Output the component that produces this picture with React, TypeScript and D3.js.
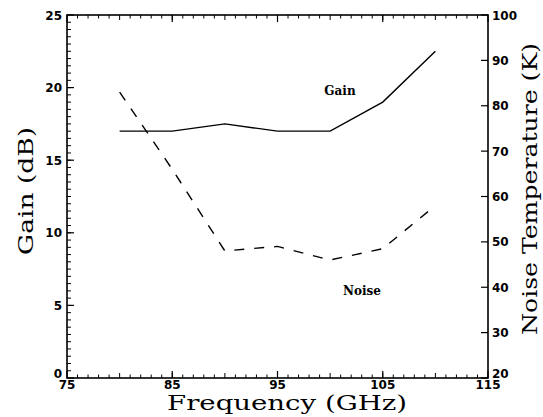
import React from 'react';
import * as d3 from 'd3';

// values
const freq = [80, 85, 90, 95, 100, 105, 110];
const gainDb = [17, 17, 17.5, 17, 17, 19, 22.5];
const noiseK = [83, 66, 48, 49, 46, 48.5, 58];

const xTickLabels = [75, 85, 95, 105, 115];
const gainTickLabels = [0, 5, 10, 15, 20, 25];
const noiseTickLabels = [20, 30, 40, 50, 60, 70, 80, 90, 100];

const W = 543;
const H = 417;
const left = 67;
const right = 488;
const top = 15;
const bottom = 378;

const App: React.FC = () => {
  const x = d3.scaleLinear().domain([75, 115]).range([left, right]);
  const yL = d3.scaleLinear().domain([0, 25]).range([bottom, top]);
  const yR = d3.scaleLinear().domain([20, 100]).range([bottom, top]);

  const gainLine = d3.line<number>()
    .x((_, i) => x(freq[i]))
    .y(d => yL(d));
  const noiseLine = d3.line<number>()
    .x((_, i) => x(freq[i]))
    .y(d => yR(d));

  const xMinor = d3.range(76, 115, 1);
  const yMinor = d3.range(0.5, 25, 0.5);

  const tickFont = {
    fontFamily: 'DejaVu Sans',
    fontWeight: 'bold' as const,
    fontSize: 12,
    fill: '#000',
  };
  const titleFont = {
    fontFamily: 'DejaVu Serif',
    fontSize: 20,
    fill: '#000',
  };

  return (
    <svg width={W} height={H} style={{ position: 'absolute', left: 0, top: 0, background: '#fff' }}>
      {/* frame */}
      <rect x={left} y={top} width={right - left} height={bottom - top}
        fill="none" stroke="#000" strokeWidth={1.6} />

      {/* bottom / top minor ticks */}
      {xMinor.map(v => (
        <g key={'xm' + v} stroke="#000" strokeWidth={1}>
          <line x1={x(v)} x2={x(v)} y1={bottom} y2={bottom - (v % 5 === 0 ? 5 : 3.5)} />
          <line x1={x(v)} x2={x(v)} y1={top} y2={top + (v % 5 === 0 ? 5 : 3.5)} />
        </g>
      ))}
      {xTickLabels.map(v => (
        <g key={'xt' + v}>
          <line x1={x(v)} x2={x(v)} y1={bottom} y2={bottom - 7} stroke="#000" strokeWidth={1.2} />
          <line x1={x(v)} x2={x(v)} y1={top} y2={top + 7} stroke="#000" strokeWidth={1.2} />
          <text x={x(v)} y={389} textAnchor="middle" {...tickFont}>{v}</text>
        </g>
      ))}

      {/* left axis ticks */}
      {yMinor.map(v => (
        <line key={'ym' + v} x1={left} x2={left + 4} y1={yL(v)} y2={yL(v)} stroke="#000" strokeWidth={1} />
      ))}
      {gainTickLabels.map(v => (
        <g key={'yl' + v}>
          <line x1={left} x2={left + 7} y1={yL(v)} y2={yL(v)} stroke="#000" strokeWidth={1.2} />
          <text x={62} y={yL(v) + (v === 0 ? 0 : 4.5)} textAnchor="end" {...tickFont}>{v}</text>
        </g>
      ))}

      {/* right axis ticks */}
      {noiseTickLabels.map(v => (
        <g key={'yr' + v}>
          <line x1={right} x2={right - 7} y1={yR(v)} y2={yR(v)} stroke="#000" strokeWidth={1.2} />
          <text x={492} y={yR(v) + (v === 20 ? 0 : 4.5)} textAnchor="start" {...tickFont}>{v}</text>
        </g>
      ))}

      {/* series */}
      <path d={gainLine(gainDb) ?? ''} fill="none" stroke="#000" strokeWidth={1.4} />
      <path d={noiseLine(noiseK) ?? ''} fill="none" stroke="#000" strokeWidth={1.4}
        strokeDasharray="10,10" />

      {/* series labels */}
      <text x={340} y={95} textAnchor="middle" fontFamily="DejaVu Serif" fontWeight="bold" fontSize={12}>Gain</text>
      <text x={362} y={295} textAnchor="middle" fontFamily="DejaVu Serif" fontWeight="bold" fontSize={12}>Noise</text>

      {/* axis titles */}
      <text x={287} y={410} textAnchor="middle" textLength={240} lengthAdjust="spacingAndGlyphs" {...titleFont}>
        Frequency (GHz)
      </text>
      <text transform={`translate(33,${191}) rotate(-90)`} textAnchor="middle" textLength={128}
        lengthAdjust="spacingAndGlyphs" {...titleFont}>
        Gain (dB)
      </text>
      <text transform={`translate(537,${189}) rotate(-90)`} textAnchor="middle" textLength={292}
        lengthAdjust="spacingAndGlyphs" {...titleFont}>
        Noise Temperature (K)
      </text>
    </svg>
  );
};

export default App;
